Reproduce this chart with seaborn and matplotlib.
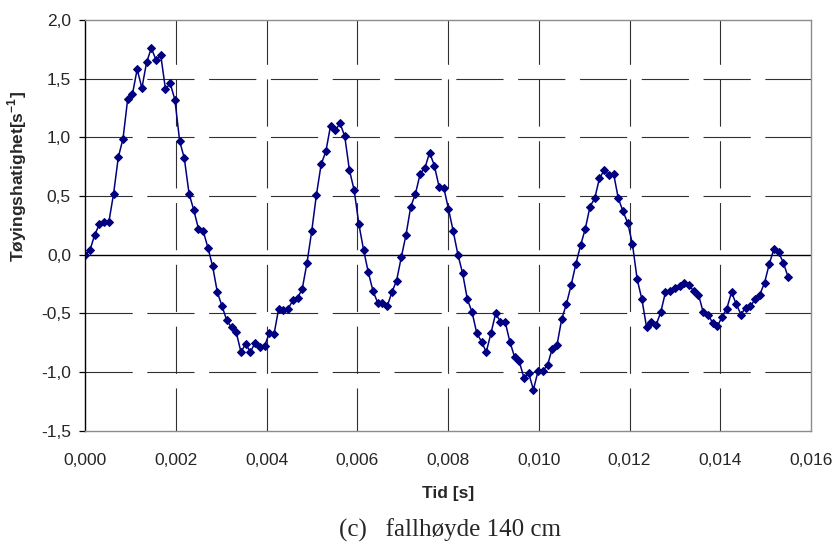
import numpy as np
import matplotlib
matplotlib.use("Agg")
import matplotlib.pyplot as plt
from matplotlib.ticker import FuncFormatter, MultipleLocator
import seaborn as sns

# ---- data ----
sample_interval = 0.000104  # s
toyingshastighet = [
    0.00, 0.04, 0.17, 0.26, 0.28, 0.28, 0.52, 0.83, 0.99, 1.33,
    1.37, 1.58, 1.42, 1.64, 1.76, 1.66, 1.70, 1.41, 1.46, 1.32,
    0.97, 0.82, 0.52, 0.38, 0.22, 0.20, 0.06, -0.10, -0.32, -0.44,
    -0.56, -0.62, -0.66, -0.83, -0.76, -0.83, -0.75, -0.79, -0.78, -0.67,
    -0.68, -0.46, -0.47, -0.46, -0.39, -0.37, -0.29, -0.07, 0.20, 0.51,
    0.77, 0.88, 1.10, 1.06, 1.12, 1.01, 0.72, 0.55, 0.26, 0.04,
    -0.15, -0.31, -0.41, -0.41, -0.44, -0.32, -0.22, -0.02, 0.17, 0.41,
    0.52, 0.69, 0.74, 0.87, 0.76, 0.58, 0.57, 0.39, 0.20, 0.00,
    -0.16, -0.38, -0.49, -0.67, -0.74, -0.83, -0.67, -0.50, -0.57, -0.57,
    -0.74, -0.87, -0.91, -1.05, -1.01, -1.15, -0.99, -0.99, -0.94, -0.80,
    -0.77, -0.55, -0.42, -0.26, -0.08, 0.08, 0.22, 0.41, 0.48, 0.65,
    0.72, 0.68, 0.69, 0.48, 0.37, 0.27, 0.09, -0.21, -0.38, -0.62,
    -0.57, -0.60, -0.49, -0.32, -0.31, -0.28, -0.27, -0.24, -0.26, -0.31,
    -0.34, -0.49, -0.51, -0.58, -0.61, -0.53, -0.46, -0.32, -0.42, -0.51,
    -0.45, -0.44, -0.38, -0.34, -0.24, -0.08, 0.05, 0.02, -0.07, -0.19,
]
tid = np.arange(len(toyingshastighet)) * sample_interval

x_range = (0.0, 0.016)
y_range = (-1.5, 2.0)
x_step = 0.002
y_step = 0.5

x_label = "Tid [s]"
y_label = r"Tøyingshatighet[s$^{\mathbf{-1}}$]"
caption = "(c)   fallhøyde 140 cm"

# ---- styling ----
sns.set_style("white")
plt.rcParams["font.family"] = ["Liberation Sans", "DejaVu Sans"]
plt.rcParams["mathtext.fontset"] = "custom"
plt.rcParams["mathtext.rm"] = "Liberation Sans"
plt.rcParams["mathtext.bf"] = "Liberation Sans:bold"
plt.rcParams["lines.scale_dashes"] = False

navy = "#000080"

fig = plt.figure(figsize=(8.37, 5.47), dpi=100)
ax = fig.add_axes([0.1019, 0.2126, 0.8670, 0.7508])

sns.lineplot(x=tid, y=toyingshastighet, ax=ax, color=navy, linewidth=1.1,
             marker="D", markersize=4.0, markeredgecolor=navy,
             markerfacecolor=navy, sort=False)

ax.set_xlim(*x_range)
ax.set_ylim(*y_range)
ax.xaxis.set_major_locator(MultipleLocator(x_step))
ax.yaxis.set_major_locator(MultipleLocator(y_step))
ax.xaxis.set_major_formatter(FuncFormatter(lambda v, p: f"{v:.3f}".replace(".", ",").replace("-0,000", "0,000")))
ax.yaxis.set_major_formatter(FuncFormatter(lambda v, p: f"{v:.1f}".replace(".", ",").replace("-0,0", "0,0")))

# grid lines (long dashes)
for xv in np.arange(x_range[0] + x_step, x_range[1] - 1e-9, x_step):
    ax.axvline(xv, color="#303030", linewidth=0.8, linestyle=(3.0, (34, 10.5)), zorder=0.5)
for yv in np.arange(y_range[0] + y_step, y_range[1] - 1e-9, y_step):
    if abs(yv) < 1e-9:
        ax.axhline(0, color="black", linewidth=1.0, zorder=0.6)
    else:
        ax.axhline(yv, color="#303030", linewidth=0.8, linestyle=(0, (34, 10.5)), zorder=0.5)

for side in ["top", "right", "bottom"]:
    ax.spines[side].set_color("#8c8c8c")
    ax.spines[side].set_linewidth(1.0)
ax.spines["left"].set_color("black")
ax.spines["left"].set_linewidth(1.0)

ax.tick_params(axis="y", which="major", direction="out", length=4.3, width=0.9,
               color="black", pad=6, labelsize=12.5, left=True)
ax.tick_params(axis="x", which="major", length=0, pad=16, labelsize=12.5, bottom=True)

ax.set_xlabel(x_label, fontsize=12.5, fontweight="bold")
ax.xaxis.set_label_coords(0.5, -0.152)
ax.xaxis.label.set_verticalalignment("center")
ax.set_ylabel(y_label, fontsize=12.5, fontweight="bold")
ax.yaxis.set_label_coords(-0.094, 0.62)
ax.yaxis.label.set_verticalalignment("center")
ax.yaxis.label.set_horizontalalignment("center")

fig.text(0.5376, 1 - 530 / 547, caption, family=["Liberation Serif", "DejaVu Serif"],
         fontsize=18, ha="center", va="center")

fig.savefig("out.png", dpi=100)
